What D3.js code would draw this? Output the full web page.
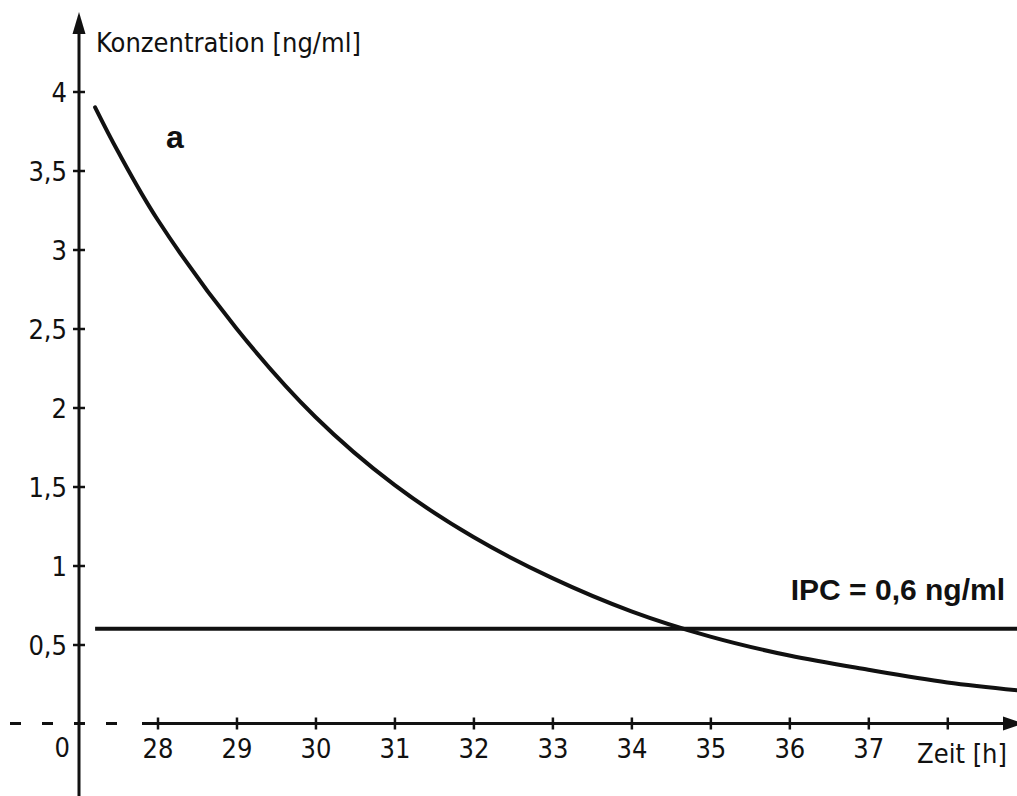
<!DOCTYPE html>
<html>
<head>
<meta charset="utf-8">
<script src="https://cdn.jsdelivr.net/npm/d3@7"></script>
<style>
  html, body { margin: 0; padding: 0; background: #fff; }
  svg { display: block; }
</style>
</head>
<body>
<svg id="chart" width="1017" height="796"></svg>
<script>
// Concentration over time (hours) — elimination curve
const hours = [27.21, 27.5, 28, 29, 30, 31, 32, 33, 34, 35, 36, 37, 38, 38.9];
const concentration = [3.90, 3.62, 3.19, 2.50, 1.94, 1.51, 1.18, 0.92, 0.71, 0.55, 0.43, 0.34, 0.26, 0.21];

// Threshold level (IPC)
const ipcValue = 0.6;
const ipcStart = 27.21;
const ipcEnd = 39.2;

// Tick values
const xTicks = [28, 29, 30, 31, 32, 33, 34, 35, 36, 37, 38];
const xTickLabels = ["28", "29", "30", "31", "32", "33", "34", "35", "36", "37", ""];
const yTicks = [0.5, 1, 1.5, 2, 2.5, 3, 3.5, 4];
const yTickLabels = ["0,5", "1", "1,5", "2", "2,5", "3", "3,5", "4"];

const svg = d3.select("#chart");
const ink = "#111";
const axisFont = "DejaVu Sans Condensed, DejaVu Sans, sans-serif";
const axisSize = 27;

const x = d3.scaleLinear().domain([28, 38]).range([157.5, 947.3]);
const y = d3.scaleLinear().domain([0, 4]).range([723.5, 91.5]);
const axisX = 79;          // pixel position of the y axis
const axisY = y(0);        // pixel position of the x axis

// ---- x axis: dashed break on the left, solid line with arrow on the right
svg.append("line")
  .attr("x1", 10).attr("x2", 130)
  .attr("y1", axisY).attr("y2", axisY)
  .attr("stroke", ink).attr("stroke-width", 3)
  .attr("stroke-dasharray", "11,21");
svg.append("line")
  .attr("x1", 142).attr("x2", 1008)
  .attr("y1", axisY).attr("y2", axisY)
  .attr("stroke", ink).attr("stroke-width", 3);
svg.append("path")
  .attr("d", `M1003,${axisY - 7} L1024,${axisY} L1003,${axisY + 7} Z`)
  .attr("fill", ink);

const xAxis = d3.axisBottom(x)
  .tickValues(xTicks)
  .tickSize(6)
  .tickFormat((d, i) => xTickLabels[i]);
const gxt = svg.append("g")
  .attr("transform", `translate(0,${axisY})`)
  .call(xAxis);
gxt.select(".domain").remove();
gxt.selectAll(".tick line")
  .attr("y1", -6).attr("y2", 6)
  .attr("stroke", ink).attr("stroke-width", 2.5);
gxt.selectAll(".tick text")
  .attr("y", 34).attr("dy", 0)
  .attr("font-family", axisFont).attr("font-size", axisSize).attr("fill", ink);

svg.append("text")
  .attr("x", 1007).attr("y", 763)
  .attr("text-anchor", "end")
  .attr("font-family", axisFont).attr("font-size", axisSize).attr("fill", ink)
  .text("Zeit [h]");

// ---- y axis with arrow
svg.append("line")
  .attr("x1", axisX).attr("x2", axisX)
  .attr("y1", 28).attr("y2", 800)
  .attr("stroke", ink).attr("stroke-width", 3);
svg.append("path")
  .attr("d", `M${axisX - 6.5},34 L${axisX},12 L${axisX + 6.5},34 Z`)
  .attr("fill", ink);

const yAxis = d3.axisLeft(y)
  .tickValues(yTicks)
  .tickSize(6)
  .tickFormat((d, i) => yTickLabels[i]);
const gyt = svg.append("g")
  .attr("transform", `translate(${axisX},0)`)
  .call(yAxis);
gyt.select(".domain").remove();
gyt.selectAll(".tick line")
  .attr("x1", -6).attr("x2", 6)
  .attr("stroke", ink).attr("stroke-width", 2.5);
gyt.selectAll(".tick text")
  .attr("x", -12).attr("dy", "0.36em")
  .attr("font-family", axisFont).attr("font-size", axisSize).attr("fill", ink);

// origin label
svg.append("text")
  .attr("x", 70).attr("y", 757)
  .attr("text-anchor", "end")
  .attr("font-family", axisFont).attr("font-size", axisSize).attr("fill", ink)
  .text("0");

// axis title
svg.append("text")
  .attr("x", 96).attr("y", 52)
  .attr("font-family", axisFont).attr("font-size", axisSize).attr("fill", ink)
  .text("Konzentration [ng/ml]");

// ---- IPC threshold line
svg.append("line")
  .attr("x1", x(ipcStart)).attr("x2", x(ipcEnd))
  .attr("y1", y(ipcValue)).attr("y2", y(ipcValue))
  .attr("stroke", ink).attr("stroke-width", 4);

svg.append("text")
  .attr("x", 1005).attr("y", 600)
  .attr("text-anchor", "end")
  .attr("font-family", "Liberation Sans, Arial, sans-serif")
  .attr("font-weight", "bold").attr("font-size", 30).attr("fill", ink)
  .text("IPC = 0,6 ng/ml");

// ---- concentration curve
const pts = hours.map((h, i) => [h, concentration[i]]);
const line = d3.line()
  .x(d => x(d[0]))
  .y(d => y(d[1]))
  .curve(d3.curveCatmullRom.alpha(0.5));
svg.append("path")
  .datum(pts)
  .attr("d", line)
  .attr("fill", "none")
  .attr("stroke", ink)
  .attr("stroke-width", 4)
  .attr("stroke-linecap", "round");

svg.append("text")
  .attr("x", 166).attr("y", 148)
  .attr("font-family", "Liberation Sans, Arial, sans-serif")
  .attr("font-weight", "bold").attr("font-size", 32).attr("fill", ink)
  .text("a");
</script>
</body>
</html>
